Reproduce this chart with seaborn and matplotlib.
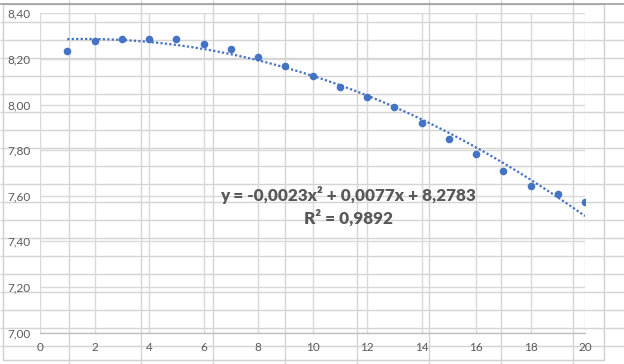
import numpy as np
import pandas as pd
import seaborn as sns
import matplotlib.pyplot as plt

# values
x_vals = [1, 2, 3, 4, 5, 6, 7, 8, 9, 10, 11, 12, 13, 14, 15, 16, 17, 18, 19, 20]
y_vals = [8.236, 8.280, 8.289, 8.289, 8.289, 8.267, 8.245, 8.210, 8.169, 8.126,
          8.078, 8.034, 7.990, 7.920, 7.850, 7.784, 7.710, 7.644, 7.609, 7.574]
x_ticks = [0, 2, 4, 6, 8, 10, 12, 14, 16, 18, 20]
y_ticks = [7.0, 7.2, 7.4, 7.6, 7.8, 8.0, 8.2, 8.4]
y_labels = ["7,00", "7,20", "7,40", "7,60", "7,80", "8,00", "8,20", "8,40"]
eq_text = "y = -0,0023x² + 0,0077x + 8,2783"
r2_text = "R² = 0,9892"

df = pd.DataFrame({"x": x_vals, "y": y_vals})

sns.set_theme(style="whitegrid")
plt.rcParams['font.family'] = ['Lato', 'DejaVu Sans']

blue = "#4472C4"
grey_txt = "#595959"

fig = plt.figure(figsize=(6.24, 3.64), dpi=100)

## spreadsheet background behind the chart
bg = fig.add_axes([0, 0, 1, 1], zorder=0)
bg.set_xlim(0, 624)
bg.set_ylim(364, 0)
bg.axis("off")
bg.hlines(np.arange(22, 364, 18), 0, 624, color="#D4D4D4", lw=1)
bg.vlines(np.arange(69, 624, 72), 0, 364, color="#D4D4D4", lw=1)
bg.hlines(4, 0, 624, color="#9E9E9E", lw=1.2)
bg.add_patch(plt.Rectangle((3, 4), 601, 356, facecolor="white",
                           edgecolor="#D0D0D0", lw=1))

## chart
ax = fig.add_axes([40 / 624, 1 - 332.5 / 364, 545 / 624, 319.2 / 364], zorder=1)
ax.set_facecolor("none")
sns.regplot(data=df, x="x", y="y", order=2, ci=None, ax=ax,
            scatter_kws={"s": 30, "color": blue, "alpha": 1, "linewidths": 0, "zorder": 3},
            line_kws={"color": blue, "lw": 1.6, "linestyle": (0, (1, 1)), "zorder": 2})

ax.set_xlim(0, 20)
ax.set_ylim(7.0, 8.4)
ax.set_xticks(x_ticks)
ax.set_yticks(y_ticks)
ax.set_yticklabels(y_labels)
ax.set_xlabel("")
ax.set_ylabel("")
ax.grid(True, color="#D9D9D9", lw=1)
ax.tick_params(axis="both", length=0, labelsize=8.5, colors=grey_txt)
ax.tick_params(axis="x", pad=7)
ax.tick_params(axis="y", pad=7)
for s in ["top", "right", "left"]:
    ax.spines[s].set_visible(False)
ax.spines["bottom"].set_color("#BFBFBF")
ax.spines["bottom"].set_linewidth(1)

fig.text(348 / 624, 1 - 195 / 364, eq_text, ha="center", va="center",
         fontsize=12.3, fontweight="heavy", color=grey_txt, zorder=5)
fig.text(348 / 624, 1 - 218 / 364, r2_text, ha="center", va="center",
         fontsize=12.3, fontweight="heavy", color=grey_txt, zorder=5)

plt.savefig("out.png", dpi=100)
